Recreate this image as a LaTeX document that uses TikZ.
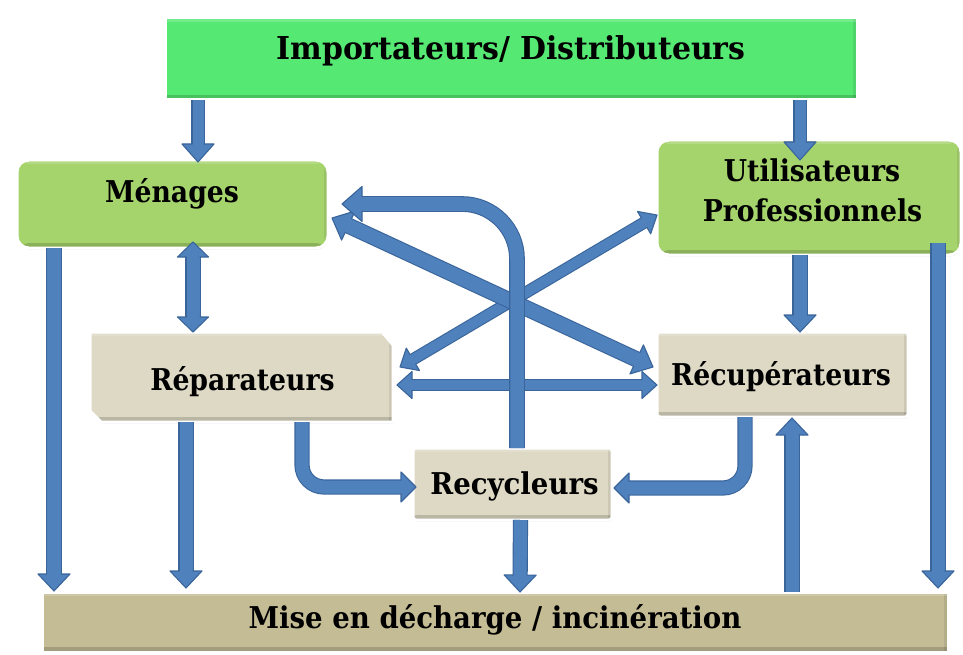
\documentclass[tikz,border=0pt]{standalone}
\usepackage{fontspec}
\newfontfamily\labfont[FakeStretch=0.89]{DejaVu Serif}
\newfontfamily\titlefont[FakeStretch=0.95]{DejaVu Serif}
\newfontfamily\misefont[FakeStretch=0.92]{DejaVu Serif}
\usetikzlibrary{calc,shadows}
\definecolor{afill}{HTML}{4F81BD}
\definecolor{adark}{HTML}{3A659B}
\definecolor{impc}{HTML}{55E872}
\definecolor{menc}{HTML}{A5D36C}
\definecolor{begc}{HTML}{DDD9C4}
\definecolor{misc}{HTML}{C4BC95}
\tikzset{
  bevel/.style={path picture={
    \fill[black,opacity=0.16] ([yshift=-1pt]path picture bounding box.south west) rectangle ([yshift=5pt]path picture bounding box.south east);
    \fill[black,opacity=0.08] ([xshift=-4pt]path picture bounding box.south east) rectangle ([xshift=1pt]path picture bounding box.north east);
    \fill[white,opacity=0.18] ([yshift=1pt]path picture bounding box.north west) rectangle ([yshift=-4pt]path picture bounding box.north east);
  }},
  bx/.style={inner sep=0pt, outer sep=0pt, draw=white, line width=3pt, bevel,
    drop shadow={opacity=0.25, shadow xshift=0.5pt, shadow yshift=-1.5pt}},
  impbox/.style={bx, fill=impc},
  menbox/.style={bx, fill=menc, rounded corners=12pt},
  begbox/.style={bx, fill=begc},
  misbox/.style={bx, fill=misc},
  ghost/.style={inner sep=0pt, outer sep=0pt, draw=none},
  lab/.style={font=\labfont\bfseries\fontsize{30}{36}\selectfont, inner sep=0pt, anchor=base},
}
\newcommand\ahead[5]{% #1 tip, #2 back point, #3 half shaft, #4 half head, #5 head length
  \fill[afill] let \p1=(#2), \p2=(#1), \n1={atan2(\y2-\y1,\x2-\x1)} in
    (\p2) -- ($(\p2)+(\n1+180:#5)+(\n1+90:#4)$) -- ($(\p2)+(\n1+180:#5)+(\n1-90:#4)$) -- cycle;
  \draw[adark,line width=1.1pt,line join=round] let \p1=(#2), \p2=(#1), \n1={atan2(\y2-\y1,\x2-\x1)} in
    ($(\p2)+(\n1+180:#5)+(\n1+90:#3)$) -- ($(\p2)+(\n1+180:#5)+(\n1+90:#4)$) -- (\p2)
    -- ($(\p2)+(\n1+180:#5)+(\n1-90:#4)$) -- ($(\p2)+(\n1+180:#5)+(\n1-90:#3)$);
}
\newcommand\sarrow[5]{% half shaft, half head, head length, start, tip
  \draw[afill,line width=2*#1,preaction={draw=adark,line width=2*#1+2.2pt}]
    let \p1=(#4), \p2=(#5), \n1={atan2(\y2-\y1,\x2-\x1)} in (\p1) -- ($(\p2)+(\n1+180:#3)$);
  \ahead{#5}{#4}{#1}{#2}{#3}}
\newcommand\darrow[5]{% half shaft, half head, head length, tip A, tip B
  \draw[afill,line width=2*#1,preaction={draw=adark,line width=2*#1+2.2pt}]
    let \p1=(#4), \p2=(#5), \n1={atan2(\y2-\y1,\x2-\x1)} in ($(\p1)+(\n1:#3)$) -- ($(\p2)+(\n1+180:#3)$);
  \ahead{#5}{#4}{#1}{#2}{#3}
  \ahead{#4}{#5}{#1}{#2}{#3}}
\begin{document}
\begin{tikzpicture}[x=1pt,y=-1pt]
\fill[white] (0,0) rectangle (963,655);
\useasboundingbox (0,0) rectangle (963,655);
% boxes
\node[impbox, minimum width=692pt, minimum height=82pt] (imp) at (511,59) {};
\node[menbox, minimum width=311pt, minimum height=88pt] (men) at (172.5,204) {};
\node[menbox, minimum width=304pt, minimum height=115pt] (util) at (809,197.5) {};
\node[ghost, minimum width=303pt, minimum height=90pt] (rep) at (241.5,377) {};
\draw[begbox] (rep.north west) -- ([xshift=-11pt]rep.north east) -- ([yshift=-13pt]rep.north east)
  -- (rep.south east) -- ([xshift=11pt]rep.south west) -- ([yshift=11pt]rep.south west) -- cycle;
\node[begbox, rounded corners=3pt, minimum width=251pt, minimum height=85pt] (recup) at (782.5,374.5) {};
\node[begbox, rounded corners=3pt, minimum width=199pt, minimum height=72pt] (recyc) at (512.5,484) {};
\node[misbox, minimum width=906pt, minimum height=60pt] (mise) at (495,622) {};
% straight vertical arrows
\sarrow{5.5pt}{16pt}{18pt}{[xshift=33pt]imp.south west}{[xshift=181pt,yshift=-2pt]men.north west}
\sarrow{5.5pt}{16pt}{18pt}{[xshift=-57pt]imp.south east}{[xshift=143pt,yshift=-20pt]util.north west}
\darrow{6.5pt}{15.5pt}{15pt}{[xshift=176pt,yshift=6pt]men.south west}{[xshift=-48.5pt]rep.north}
\sarrow{7pt}{16pt}{17pt}{[xshift=37pt]men.south west}{[xshift=12pt,yshift=1pt]mise.north west}
\sarrow{6.5pt}{16pt}{17pt}{[xshift=-55.5pt]rep.south}{[xshift=144pt,yshift=4pt]mise.north west}
\sarrow{6.5pt}{16pt}{17pt}{[xshift=8pt]recyc.south}{[xshift=478pt]mise.north west}
\sarrow{6.5pt}{16pt}{17pt}{[xshift=750pt]mise.north west}{[xshift=9.5pt,yshift=-1pt]recup.south}
\sarrow{6.5pt}{16pt}{17pt}{[xshift=143pt]util.south west}{[xshift=17.5pt]recup.north}
\sarrow{6.5pt}{16pt}{17pt}{[xshift=281pt,yshift=12pt]util.south west}{[xshift=-10pt,yshift=4pt]mise.north east}
% curved arrows to Recycleurs
\coordinate (s6) at ([xshift=60.5pt]rep.south);
\coordinate (t6) at ([xshift=3pt,yshift=-3pt]recyc.west);
\draw[afill,line width=13pt,rounded corners=22pt,preaction={draw=adark,line width=15.2pt}]
  (s6) |- ([xshift=-15pt]t6);
\ahead{t6}{[xshift=-30pt]t6}{6.5pt}{15pt}{15pt}
\coordinate (s7) at ([xshift=-37.5pt]recup.south);
\coordinate (t7) at ([xshift=2pt,yshift=-4pt]recyc.east);
\draw[afill,line width=13pt,rounded corners=22pt,preaction={draw=adark,line width=15.2pt}]
  (s7) |- ([xshift=15pt]t7);
\ahead{t7}{[xshift=30pt]t7}{6.5pt}{15pt}{15pt}
% diagonal and horizontal double arrows
\darrow{5pt}{13pt}{15pt}{[xshift=7pt,yshift=10pt]rep.east}{[yshift=-17.5pt]util.west}
\darrow{7pt}{16pt}{18pt}{[xshift=4pt,yshift=-14pt]men.east}{[xshift=-4pt,yshift=7.5pt]recup.west}
\darrow{5pt}{13.5pt}{15pt}{[xshift=4pt,yshift=-8pt]rep.east}{[yshift=-10.5pt]recup.west}
% Recycleurs -> Menages
\coordinate (s15) at ([xshift=4.5pt]recyc.north);
\coordinate (t15) at ([xshift=14pt]men.east);
\draw[afill,line width=13.5pt,rounded corners=55pt,preaction={draw=adark,line width=15.7pt}]
  (s15) |- ([xshift=19pt]t15);
\ahead{t15}{[xshift=30pt]t15}{6.75pt}{17.5pt}{20pt}
% texts
\node[lab, font=\titlefont\bfseries\fontsize{31.5}{36}\selectfont] (impt) at (511,60) {Importateurs/ Distributeurs};
\node[lab] (ment) at (172,202) {Ménages};
\node[lab] (utilt1) at (812,182) {Utilisateurs};
\node[lab] (utilt2) at (812.5,222) {Professionnels};
\node[lab] (rept) at (242.5,390) {Réparateurs};
\node[lab] (recupt) at (781,385) {Récupérateurs};
\node[lab, font=\misefont\bfseries\fontsize{30}{36}\selectfont] (recyct) at (514.5,494) {Recycleurs};
\node[lab, font=\misefont\bfseries\fontsize{30}{36}\selectfont] (miset) at (495,628) {Mise en décharge / incinération};
\end{tikzpicture}
\end{document}
